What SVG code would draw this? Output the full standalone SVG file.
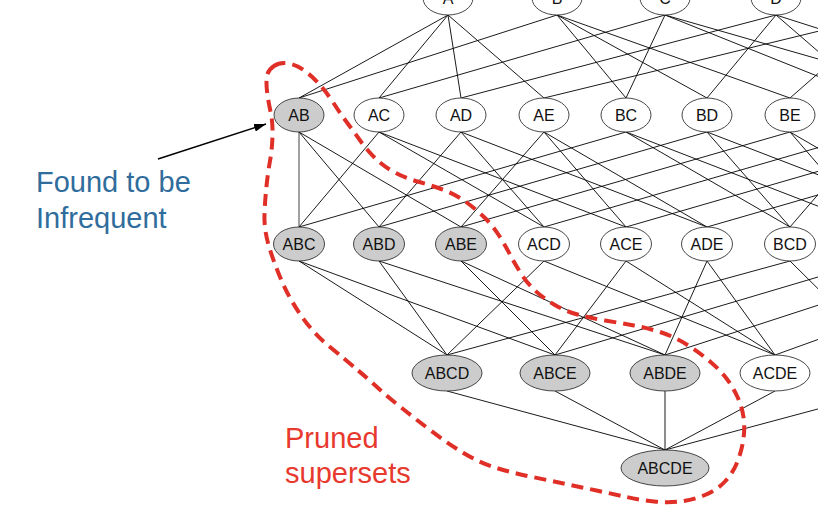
<svg xmlns="http://www.w3.org/2000/svg" width="818" height="532" viewBox="0 0 818 532">
<style>
.e{stroke:#000;stroke-width:0.9;fill:none}
.g{stroke:#8a8a8a;stroke-width:1.6;fill:none}
.n{fill:#fff;stroke:#333;stroke-width:0.9}
.i{fill:#cccccc;stroke:#333;stroke-width:0.9}
.t{font-family:"Liberation Sans",Arial,sans-serif;font-size:16px;fill:#111;text-anchor:middle}
.blue{font-family:"Liberation Sans",Arial,sans-serif;font-size:29px;fill:#306d9c}
.red{font-family:"Liberation Sans",Arial,sans-serif;font-size:29px;fill:#e8392e}
</style>
<defs>
<marker id="ah" markerUnits="userSpaceOnUse" markerWidth="12" markerHeight="8" refX="12" refY="4" orient="auto">
<path d="M0,0 L12,4 L0,8 z" fill="#000"/>
</marker>
</defs>
<rect width="818" height="532" fill="#fff"/>
<g id="connectors">
<path class="e" d="M448,15 L299,98 M448,15 L379,98 M448,15 L461,98 M448,15 L544,98"/>
<path class="e" d="M557,15 L299,98 M557,15 L626,98 M557,15 L707,98 M557,15 L790,98"/>
<path class="e" d="M665,15 L379,98 M665,15 L626,98 M665,15 L872,98 M665,15 L954,98"/>
<path class="e" d="M776,15 L461,98 M776,15 L707,98 M776,15 L872,98 M776,15 L1036,98"/>
<path class="e" d="M885,15 L544,98 M885,15 L790,98 M885,15 L954,98 M885,15 L1036,98"/>
<path class="g" d="M299,132 L299,227"/>
<path class="e" d="M299,132 L379,227 M299,132 L461,227"/>
<path class="e" d="M379,132 L299,227 M379,132 L544,227 M379,132 L626,227"/>
<path class="e" d="M461,132 L379,227 M461,132 L544,227 M461,132 L707,227"/>
<path class="e" d="M544,132 L461,227 M544,132 L626,227 M544,132 L707,227"/>
<path class="e" d="M626,132 L299,227 M626,132 L790,227 M626,132 L872,227"/>
<path class="e" d="M707,132 L379,227 M707,132 L790,227 M707,132 L954,227"/>
<path class="e" d="M790,132 L461,227 M790,132 L872,227 M790,132 L954,227"/>
<path class="e" d="M872,132 L544,227 M872,132 L790,227 M872,132 L1036,227"/>
<path class="e" d="M954,132 L626,227 M954,132 L872,227 M954,132 L1036,227"/>
<path class="e" d="M1036,132 L707,227 M1036,132 L954,227 M1036,132 L1036,227"/>
<path class="e" d="M299,261 L447,355 M299,261 L555,355"/>
<path class="e" d="M379,261 L447,355 M379,261 L665,355"/>
<path class="e" d="M461,261 L555,355 M461,261 L665,355"/>
<path class="e" d="M544,261 L447,355 M544,261 L775,355"/>
<path class="e" d="M626,261 L555,355 M626,261 L775,355"/>
<path class="e" d="M707,261 L665,355 M707,261 L775,355"/>
<path class="e" d="M790,261 L447,355 M790,261 L885,355"/>
<path class="e" d="M872,261 L555,355 M872,261 L885,355"/>
<path class="e" d="M954,261 L665,355 M954,261 L885,355"/>
<path class="e" d="M1036,261 L775,355 M1036,261 L885,355"/>
<path class="e" d="M447,391 L665,450 M555,391 L665,450 M665,391 L665,450 M775,391 L665,450 M885,391 L665,450"/>
</g>
<g id="A"><ellipse class="n" cx="448" cy="-2" rx="25" ry="17"/><text class="t" x="448" y="4">A</text></g>
<g id="B"><ellipse class="n" cx="557" cy="-2" rx="25" ry="17"/><text class="t" x="557" y="4">B</text></g>
<g id="C"><ellipse class="n" cx="665" cy="-2" rx="25" ry="17"/><text class="t" x="665" y="4">C</text></g>
<g id="D"><ellipse class="n" cx="776" cy="-2" rx="25" ry="17"/><text class="t" x="776" y="4">D</text></g>
<g id="AB"><ellipse class="i" cx="299" cy="115" rx="25" ry="17"/><text class="t" x="299" y="121">AB</text></g>
<g id="AC"><ellipse class="n" cx="379" cy="115" rx="25" ry="17"/><text class="t" x="379" y="121">AC</text></g>
<g id="AD"><ellipse class="n" cx="461" cy="115" rx="25" ry="17"/><text class="t" x="461" y="121">AD</text></g>
<g id="AE"><ellipse class="n" cx="544" cy="115" rx="25" ry="17"/><text class="t" x="544" y="121">AE</text></g>
<g id="BC"><ellipse class="n" cx="626" cy="115" rx="25" ry="17"/><text class="t" x="626" y="121">BC</text></g>
<g id="BD"><ellipse class="n" cx="707" cy="115" rx="25" ry="17"/><text class="t" x="707" y="121">BD</text></g>
<g id="BE"><ellipse class="n" cx="790" cy="115" rx="25" ry="17"/><text class="t" x="790" y="121">BE</text></g>
<g id="ABC"><ellipse class="i" cx="299" cy="244" rx="25.5" ry="17"/><text class="t" x="299" y="250">ABC</text></g>
<g id="ABD"><ellipse class="i" cx="379" cy="244" rx="25.5" ry="17"/><text class="t" x="379" y="250">ABD</text></g>
<g id="ABE"><ellipse class="i" cx="461" cy="244" rx="25.5" ry="17"/><text class="t" x="461" y="250">ABE</text></g>
<g id="ACD"><ellipse class="n" cx="544" cy="244" rx="25.5" ry="17"/><text class="t" x="544" y="250">ACD</text></g>
<g id="ACE"><ellipse class="n" cx="626" cy="244" rx="25.5" ry="17"/><text class="t" x="626" y="250">ACE</text></g>
<g id="ADE"><ellipse class="n" cx="707" cy="244" rx="25.5" ry="17"/><text class="t" x="707" y="250">ADE</text></g>
<g id="BCD"><ellipse class="n" cx="790" cy="244" rx="25.5" ry="17"/><text class="t" x="790" y="250">BCD</text></g>
<g id="ABCD"><ellipse class="i" cx="447" cy="373" rx="35" ry="18"/><text class="t" x="447" y="379">ABCD</text></g>
<g id="ABCE"><ellipse class="i" cx="555" cy="373" rx="35" ry="18"/><text class="t" x="555" y="379">ABCE</text></g>
<g id="ABDE"><ellipse class="i" cx="665" cy="373" rx="35" ry="18"/><text class="t" x="665" y="379">ABDE</text></g>
<g id="ACDE"><ellipse class="n" cx="775" cy="373" rx="35" ry="18"/><text class="t" x="775" y="379">ACDE</text></g>
<g id="ABCDE"><ellipse class="i" cx="665" cy="468" rx="44" ry="18"/><text class="t" x="665" y="474">ABCDE</text></g>
<g id="pruned-region">
<path fill="none" stroke="#df2f27" stroke-width="4" stroke-dasharray="12 7" d="M274,66 Q280,62 288.5,63.5 Q297,65 305,71 Q313,77 320,85 Q327,93 333.5,103 Q340,113 347,122.5 Q354,132 360.5,141 Q367,150 375,158 Q383,166 394,172 Q405,178 417.5,181.5 Q430,185 442.5,189.5 Q455,194 466,202 Q477,210 485,218 Q493,226 499,235.5 Q505,245 510,254.5 Q515,264 521,273.5 Q527,283 535,290.5 Q543,298 554,304.5 Q565,311 577.5,314.5 Q590,318 605,320.5 Q620,323 634,325.5 Q648,328 661.5,332.5 Q675,337 687.5,345 Q700,353 710,361.5 Q720,370 726.5,378.5 Q733,387 737.5,397 Q742,407 743.5,417 Q745,427 743.5,438.5 Q742,450 737.5,461.5 Q733,473 725,481.5 Q717,490 705,495 Q693,500 680.5,501.5 Q668,503 654,501.5 Q640,500 626.5,497 Q613,494 596.5,490.5 Q580,487 563.5,483.5 Q547,480 530,476.5 Q513,473 496.5,468 Q480,463 463.5,453 Q447,443 430,430 Q413,417 400.5,407 Q388,397 377.5,387.5 Q367,378 357,369.5 Q347,361 330,347 Q313,333 301,315.5 Q289,298 281.5,280.5 Q274,263 269,246.5 Q264,230 264.5,215 Q265,200 266.5,186 Q268,172 270,161 Q272,150 272.5,136.5 Q273,123 270.5,111.5 Q268,100 267,91 Q266,82 267,76 Q268,70 274,66 Z"/>
</g>
<g id="infrequent-label">
<line x1="158" y1="159" x2="266" y2="124" stroke="#000" stroke-width="1.5" marker-end="url(#ah)"/>
<text class="blue" x="36" y="192">Found to be</text>
<text class="blue" x="36" y="228">Infrequent</text>
</g>
<g id="pruned-label">
<text class="red" x="285" y="448">Pruned</text>
<text class="red" x="285" y="483">supersets</text>
</g>
</svg>
